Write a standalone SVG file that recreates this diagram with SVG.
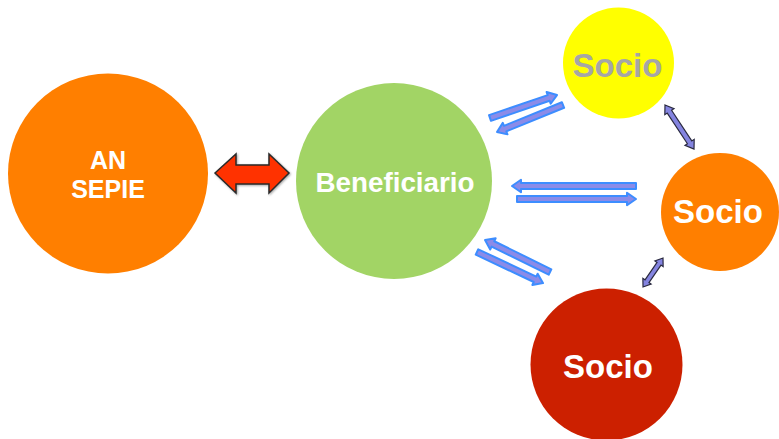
<svg xmlns="http://www.w3.org/2000/svg" width="779" height="439" viewBox="0 0 779 439">
<defs>
<style>
.lbl{font-family:"Liberation Sans",Arial,sans-serif;font-weight:bold;text-anchor:middle;fill:#ffffff}
.blue{fill:#8b8be8;stroke:#3d8dff;stroke-width:2;stroke-linejoin:round}
.gray{fill:#8484e0;stroke:#2a2a40;stroke-width:1.2;stroke-linejoin:miter}
</style>
<filter id="glow" x="-20%" y="-50%" width="140%" height="200%">
<feGaussianBlur in="SourceGraphic" stdDeviation="0.6"/>
</filter>
<filter id="sh" x="-20%" y="-30%" width="140%" height="160%">
<feDropShadow dx="1" dy="1" stdDeviation="1" flood-color="#000" flood-opacity="0.35"/>
</filter>
</defs>
<rect width="779" height="439" fill="#ffffff"/>

<g id="connectors">
<path id="red-double" filter="url(#sh)" d="M215,173 L236,154 L236,165 L269,165 L269,154 L289,173 L269,193 L269,184 L236,184 L236,193 Z" fill="#ff3300" stroke="#2a2a2a" stroke-width="1.5" stroke-linejoin="miter"/>
<g filter="url(#glow)">
<path class="blue" transform="translate(490,118) rotate(-18.9)" d="M0,-3 L62,-3 L62,-6.2 L70.8,0 L62,6.2 L62,3 L0,3 Z"/>
<path class="blue" transform="translate(563,105) rotate(157.8)" d="M0,-3 L62.5,-3 L62.5,-6.2 L71.3,0 L62.5,6.2 L62.5,3 L0,3 Z"/>
<path class="blue" transform="translate(636,186)  rotate(180)" d="M0,-3 L115,-3 L115,-6.2 L124,0 L115,6.2 L115,3 L0,3 Z"/>
<path class="blue" transform="translate(517,199)" d="M0,-3 L110,-3 L110,-6.2 L119,0 L110,6.2 L110,3 L0,3 Z"/>
<path class="blue" transform="translate(550,272) rotate(206.2)" d="M0,-3 L63.6,-3 L63.6,-6.2 L72.4,0 L63.6,6.2 L63.6,3 L0,3 Z"/>
<path class="blue" transform="translate(477,252) rotate(25.2)" d="M0,-3 L64.1,-3 L64.1,-6.2 L72.9,0 L64.1,6.2 L64.1,3 L0,3 Z"/>
</g>
<path class="gray" transform="translate(665,105) rotate(56.6)" d="M0,0 L8,-5.5 L8,-2.6 L44.7,-2.6 L44.7,-5.5 L52.7,0 L44.7,5.5 L44.7,2.6 L8,2.6 L8,5.5 Z"/>
<path class="gray" transform="translate(663,258) rotate(124.6)" d="M0,0 L7,-5 L7,-2.4 L28.2,-2.4 L28.2,-5 L35.2,0 L28.2,5 L28.2,2.4 L7,2.4 L7,5 Z"/>
</g>

<g id="an-sepie">
<circle cx="108" cy="173.5" r="100" fill="#ff7f00"/>
<text class="lbl" x="108" y="168.5" font-size="25">AN</text>
<text class="lbl" x="108" y="198" font-size="25">SEPIE</text>
</g>

<g id="beneficiario">
<circle cx="394" cy="181" r="98" fill="#a2d465"/>
<text class="lbl" x="395" y="192" font-size="27.8">Beneficiario</text>
</g>

<g id="socio-yellow">
<circle cx="618.5" cy="63" r="55.5" fill="#ffff00"/>
<text class="lbl" x="617.5" y="77" font-size="33" style="fill:#a6a6a6">Socio</text>
</g>

<g id="socio-orange">
<circle cx="720" cy="212" r="59" fill="#ff7f00"/>
<text class="lbl" x="718" y="223" font-size="33">Socio</text>
</g>

<g id="socio-red">
<circle cx="606.5" cy="364.5" r="76" fill="#cc2000"/>
<text class="lbl" x="608" y="378" font-size="33">Socio</text>
</g>
</svg>
